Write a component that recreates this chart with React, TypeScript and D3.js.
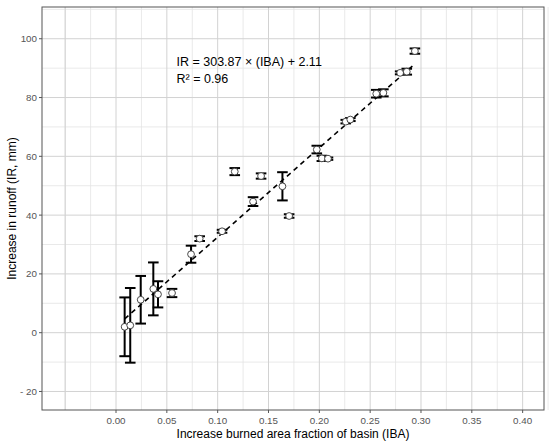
import React from "react";
import * as d3 from "d3";

// Data
const iba = [0.0085, 0.014, 0.0243, 0.0367, 0.0413, 0.0551, 0.0738, 0.0823, 0.1043, 0.1168, 0.1348, 0.1427, 0.1637, 0.1703, 0.1975, 0.2025, 0.2085, 0.226, 0.2305, 0.256, 0.263, 0.2795, 0.286, 0.294];
const ir = [2.0, 2.5, 11.2, 14.9, 13.05, 13.5, 26.7, 32.0, 34.5, 54.8, 44.6, 53.3, 49.8, 39.7, 62.3, 59.3, 59.2, 71.8, 72.5, 81.3, 81.6, 88.4, 88.8, 95.8];
const irErr = [10.0, 12.7, 8.1, 9.0, 4.45, 1.4, 2.9, 0.8, 0.5, 1.2, 1.5, 0.9, 4.8, 0.6, 1.3, 0.9, 0.4, 0.6, 0.5, 1.3, 1.2, 0.5, 1.0, 0.9];
const xTicks = [0, 0.05, 0.1, 0.15, 0.2, 0.25, 0.3, 0.35, 0.4];
const yTicks = [-20, 0, 20, 40, 60, 80, 100];
const slope = 303.87;
const intercept = 2.11;
const r2 = 0.96;

const W = 550, H = 445;
const L = 42, R = 544, T = 7, B = 410;

export default function App() {
  const x = d3.scaleLinear().domain([-0.0728, 0.421]).range([L, R]);
  const y = d3.scaleLinear().domain([-26.3, 110.8]).range([B, T]);
  const xMinor = d3.range(-0.05, 0.4251, 0.025).filter((v) => !xTicks.some((t) => Math.abs(t - v) < 1e-6));
  const yMinor = d3.range(-20, 111, 10).filter((v) => !yTicks.includes(v) && y(v) > T && y(v) < B);
  const xMajorAll = [-0.05, ...xTicks];
  const xmin = d3.min(iba)!, xmax = d3.max(iba)!;
  const line = d3.line<number>().x((d) => x(d)).y((d) => y(slope * d + intercept));
  const capHalf = 5.3;
  const fmtX = (v: number) => v.toFixed(2);
  const fmtY = (v: number) => (v < 0 ? "- " + Math.abs(v) : String(v));
  const font = "Liberation Sans, Arial, sans-serif";
  return (
    <svg width={W} height={H} style={{ position: "absolute", left: 0, top: 0, background: "#fff" }} fontFamily={font}>
      <rect x={0} y={0} width={W} height={H} fill="#fff" />
      {/* grid */}
      <g>
        {xMinor.map((v) => (
          <line key={"xm" + v} x1={x(v)} x2={x(v)} y1={T} y2={B} stroke="#e3e3e3" strokeWidth={0.8} />
        ))}
        {yMinor.map((v) => (
          <line key={"ym" + v} x1={L} x2={R} y1={y(v)} y2={y(v)} stroke="#e3e3e3" strokeWidth={0.8} />
        ))}
        {xMajorAll.map((v) => (
          <line key={"xM" + v} x1={x(v)} x2={x(v)} y1={T} y2={B} stroke="#d2d2d2" strokeWidth={1} />
        ))}
        {yTicks.map((v) => (
          <line key={"yM" + v} x1={L} x2={R} y1={y(v)} y2={y(v)} stroke="#d2d2d2" strokeWidth={1} />
        ))}
      </g>
      {/* fitted line */}
      <path d={line([xmin, xmax]) || ""} stroke="#000" strokeWidth={1.6} strokeDasharray="5,4" fill="none" />
      {/* error bars */}
      <g stroke="#000" strokeWidth={2} fill="none">
        {iba.map((v, i) => {
          const cx = x(v);
          const y1 = y(ir[i] + irErr[i]);
          const y2 = y(ir[i] - irErr[i]);
          return (
            <g key={"e" + i}>
              <line x1={cx} x2={cx} y1={y1} y2={y2} />
              <line x1={cx - capHalf} x2={cx + capHalf} y1={y1} y2={y1} />
              <line x1={cx - capHalf} x2={cx + capHalf} y1={y2} y2={y2} />
            </g>
          );
        })}
      </g>
      {/* points */}
      <g>
        {iba.map((v, i) => (
          <circle key={"p" + i} cx={x(v)} cy={y(ir[i])} r={3.4} fill="#fff" stroke="#333" strokeWidth={0.9} />
        ))}
      </g>
      {/* panel border */}
      <rect x={L} y={T} width={R - L} height={B - T} fill="none" stroke="#555" strokeWidth={1} />
      {/* ticks */}
      {xTicks.map((v) => (
        <g key={"xt" + v}>
          <line x1={x(v)} x2={x(v)} y1={B} y2={B + 3} stroke="#555" />
          <text x={x(v)} y={B + 14} textAnchor="middle" fontSize={9.8} fill="#555">
            {fmtX(v)}
          </text>
        </g>
      ))}
      {yTicks.map((v) => (
        <g key={"yt" + v}>
          <line x1={L - 3} x2={L} y1={y(v)} y2={y(v)} stroke="#555" />
          <text x={L - 5} y={y(v) + 3.5} textAnchor="end" fontSize={9.8} fill="#555">
            {fmtY(v)}
          </text>
        </g>
      ))}
      {/* axis titles */}
      <text x={(L + R) / 2} y={438} textAnchor="middle" fontSize={12} fill="#000">
        Increase burned area fraction of basin (IBA)
      </text>
      <text transform={`translate(16,${(T + B) / 2}) rotate(-90)`} textAnchor="middle" fontSize={12} fill="#000">
        Increase in runoff (IR, mm)
      </text>
      {/* equation */}
      <text x={176.5} y={66} fontSize={12.5} fill="#000">
        {`IR = ${slope.toFixed(2)} × (IBA) + ${intercept.toFixed(2)}`}
      </text>
      <text x={176.5} y={83} fontSize={12.5} fill="#000">
        {`R² = ${r2.toFixed(2)}`}
      </text>
    </svg>
  );
}
